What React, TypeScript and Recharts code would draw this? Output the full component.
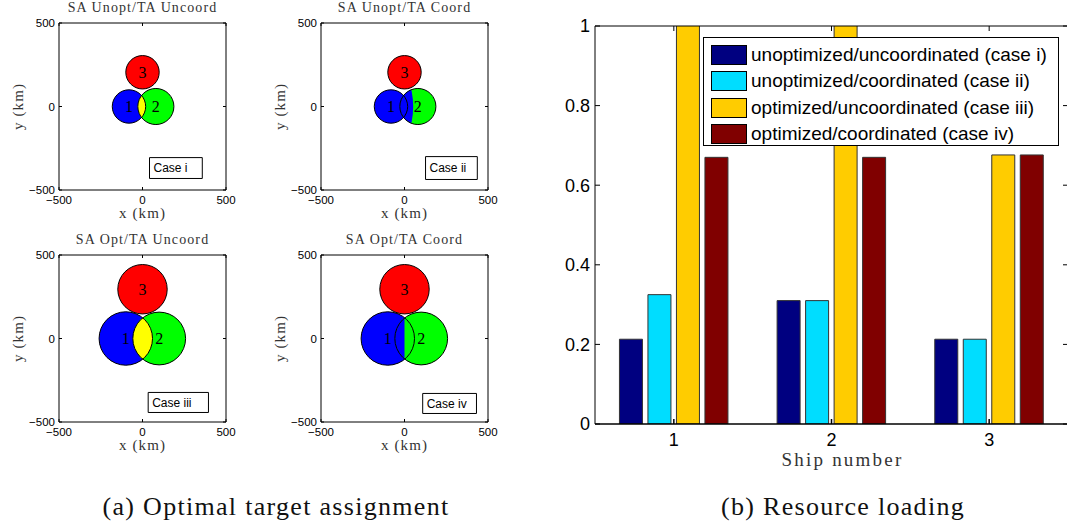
import React from 'react';
import {
  ScatterChart,
  Scatter,
  BarChart,
  Bar,
  XAxis,
  YAxis,
  ReferenceArea,
  Legend,
} from 'recharts';

// Ship coverage circles (km): centre x, centre y, radius
const shipIds = ['1', '2', '3'];
const unoptX = [-81, 80, 0];
const unoptY = [0, 0, 205];
const unoptR = [100, 108, 100];
const optX = [-100, 100, 0];
const optY = [0, 0, 295];
const optR = [160, 158, 148];

// coordinated assignment: boundary of ship 1's share inside ship 2 (case ii)
const handoverX = -400;
const handoverR = 452;
// coordinated assignment: overlap split line (case iv)
const splitX = 0;

const panelTitles = ['SA Unopt/TA Uncoord', 'SA Unopt/TA Coord', 'SA Opt/TA Uncoord', 'SA Opt/TA Coord'];
const caseTags = ['Case i', 'Case ii', 'Case iii', 'Case iv'];
const kmTicks = [-500, 0, 500];

// Resource loading per ship
const shipNumbers = ['1', '2', '3'];
const loadCaseI = [0.213, 0.31, 0.213];
const loadCaseII = [0.325, 0.31, 0.213];
const loadCaseIII = [1.34, 1.34, 0.676];
const loadCaseIV = [0.67, 0.67, 0.676];
const caseNames = [
  'unoptimized/uncoordinated (case i)',
  'unoptimized/coordinated (case ii)',
  'optimized/uncoordinated (case iii)',
  'optimized/coordinated (case iv)',
];
const loadTicks = [0, 0.2, 0.4, 0.6, 0.8, 1];

const SANS = '"Liberation Sans", Arial, sans-serif';
const SERIF = '"Liberation Serif", "Times New Roman", serif';
const shipColors = ['#0000FF', '#00FF00', '#FF0000'];
const barColors = ['#000080', '#00DDFF', '#FFCC00', '#800000'];

const panels = [
  { xs: unoptX, ys: unoptY, rs: unoptR, mode: 'overlap', box: [42, 358, -306, -431], left: 0, top: 0 },
  { xs: unoptX, ys: unoptY, rs: unoptR, mode: 'handover', box: [126, 436, -300, -437], left: 262, top: 0 },
  { xs: optX, ys: optY, rs: optR, mode: 'overlap', box: [34, 395, -323, -443], left: 0, top: 232 },
  { xs: optX, ys: optY, rs: optR, mode: 'split', box: [109, 431, -329, -449], left: 262, top: 232 },
];

const kmFormat = (v: number) => (v < 0 ? `\u2212${-v}` : `${v}`);
const blank = () => '';

const ellipseOf = (p: any) => ({
  cx: p.x + p.width / 2,
  cy: p.y + p.height / 2,
  rx: p.width / 2,
  ry: p.height / 2,
});

function CoveragePlot({ idx }: { idx: number }) {
  const { xs, ys, rs, mode, box, left, top } = panels[idx];
  const clipId = `ship2-cover-${idx}`;
  const ships = shipIds.map((id, i) => ({ x: xs[i], y: ys[i], id }));
  const area = (i: number) => ({
    x1: xs[i] - rs[i],
    x2: xs[i] + rs[i],
    y1: ys[i] - rs[i],
    y2: ys[i] + rs[i],
  });
  const axisCommon = {
    type: 'number' as const,
    domain: [-500, 500],
    ticks: kmTicks,
    allowDataOverflow: true,
    stroke: '#000',
    tickSize: -3,
  };
  const tickStyle = { fontSize: 11.5, fill: '#000', fontFamily: SANS };
  const labelStyle = { fontFamily: SERIF, fontSize: 15, fill: '#333', letterSpacing: 1.1 };

  return (
    <div style={{ position: 'absolute', left, top }}>
      <ScatterChart width={240} height={225} margin={{ top: 22, right: 13, bottom: 0, left: 0 }}>
        <XAxis
          {...axisCommon}
          dataKey="x"
          height={35}
          tickMargin={9}
          tick={tickStyle}
          tickFormatter={kmFormat}
          label={{ value: 'x (km)', position: 'insideBottom', offset: 7, style: labelStyle }}
        />
        {/* mirrored axes close the box; the top one carries the panel title */}
        <XAxis
          {...axisCommon}
          dataKey="x"
          xAxisId="top"
          orientation="top"
          height={1}
          tickFormatter={blank}
          label={{
            value: panelTitles[idx],
            position: 'top',
            offset: 10,
            style: { ...labelStyle, fontSize: 14 },
          }}
        />
        <YAxis
          {...axisCommon}
          dataKey="y"
          width={59}
          tickMargin={7}
          tick={tickStyle}
          tickFormatter={kmFormat}
          label={{
            value: 'y (km)',
            angle: -90,
            position: 'insideLeft',
            offset: 18,
            style: { ...labelStyle, textAnchor: 'middle' },
          }}
        />
        <YAxis {...axisCommon} dataKey="y" yAxisId="right" orientation="right" width={1} tickFormatter={blank} />

        {/* filled coverage discs; ship 2 also provides the clip for the overlap */}
        {shipIds.map((id, i) => (
          <ReferenceArea
            key={`fill-${id}`}
            {...area(i)}
            shape={(p: any) => (
              <g>
                {i === 1 && (
                  <defs>
                    <clipPath id={clipId}>
                      <ellipse {...ellipseOf(p)} />
                    </clipPath>
                  </defs>
                )}
                <ellipse {...ellipseOf(p)} fill={shipColors[i]} />
              </g>
            )}
          />
        ))}

        {mode === 'overlap' && (
          <ReferenceArea
            {...area(0)}
            shape={(p: any) => <ellipse {...ellipseOf(p)} fill="#FFFF00" clipPath={`url(#${clipId})`} />}
          />
        )}
        {mode === 'handover' && (
          <ReferenceArea
            x1={handoverX - handoverR}
            x2={handoverX + handoverR}
            y1={-handoverR}
            y2={handoverR}
            ifOverflow="visible"
            shape={(p: any) => <ellipse {...ellipseOf(p)} fill="#0000FF" clipPath={`url(#${clipId})`} />}
          />
        )}
        {mode === 'split' && (
          <ReferenceArea
            x1={xs[1] - rs[1]}
            x2={splitX}
            y1={ys[1] - rs[1]}
            y2={ys[1] + rs[1]}
            shape={(p: any) => (
              <rect x={p.x} y={p.y} width={p.width} height={p.height} fill="#0000FF" clipPath={`url(#${clipId})`} />
            )}
          />
        )}

        {/* circle outlines on top of the fills */}
        {shipIds.map((id, i) => (
          <ReferenceArea
            key={`edge-${id}`}
            {...area(i)}
            shape={(p: any) => <ellipse {...ellipseOf(p)} fill="none" stroke="#000" strokeWidth={1} />}
          />
        ))}

        <ReferenceArea
          x1={box[0]}
          x2={box[1]}
          y1={box[2]}
          y2={box[3]}
          fill="#fff"
          fillOpacity={1}
          stroke="#000"
          strokeWidth={1}
          label={{ value: caseTags[idx], position: 'insideLeft', offset: 4, fill: '#000', fontSize: 12, fontFamily: SANS }}
        />

        {/* ship numbers at the circle centres */}
        <Scatter
          data={ships}
          isAnimationActive={false}
          shape={(p: any) => (
            <text x={p.cx} y={p.cy} dy="0.35em" textAnchor="middle" fontFamily={SERIF} fontSize={16} fill="#000">
              {p.payload.id}
            </text>
          )}
        />
        <Scatter data={ships} xAxisId="top" yAxisId="right" isAnimationActive={false} shape={() => <g />} />
      </ScatterChart>
    </div>
  );
}

function LoadLegend() {
  return (
    <div
      style={{
        boxSizing: 'border-box',
        width: 356,
        height: 109,
        border: '1px solid #000',
        background: '#fff',
        padding: '4px 0 0 7px',
        fontFamily: SANS,
        fontSize: 19,
      }}
    >
      {caseNames.map((name, i) => (
        <div key={name} style={{ display: 'flex', alignItems: 'center', height: 26.3 }}>
          <span
            style={{
              display: 'inline-block',
              boxSizing: 'border-box',
              width: 36,
              height: 20,
              border: '1px solid #000',
              background: barColors[i],
              marginRight: 4,
            }}
          />
          <span style={{ color: '#000', whiteSpace: 'nowrap' }}>{name}</span>
        </div>
      ))}
    </div>
  );
}

function ResourceLoading() {
  const data = shipNumbers.map((ship, i) => ({
    ship,
    c1: loadCaseI[i],
    c2: loadCaseII[i],
    c3: loadCaseIII[i],
    c4: loadCaseIV[i],
  }));
  const tickStyle = { fontSize: 18, fill: '#000', fontFamily: SANS };

  return (
    <div style={{ position: 'absolute', left: 540, top: 0 }}>
      <BarChart
        width={530}
        height={470}
        data={data}
        margin={{ top: 25, right: 1, bottom: 0, left: 0 }}
        barCategoryGap="15.5%"
        barGap={5.5}
      >
        <XAxis
          dataKey="ship"
          height={46}
          tickSize={-5}
          tickMargin={14.5}
          tick={tickStyle}
          stroke="#000"
          strokeWidth={1.5}
          label={{
            value: 'Ship number',
            position: 'insideBottom',
            offset: 4,
            dx: 11,
            style: { fontFamily: SERIF, fontSize: 19, fill: '#333', letterSpacing: 2.2 },
          }}
        />
        <XAxis xAxisId="top" dataKey="ship" orientation="top" height={1} tickSize={-5} tickFormatter={blank} stroke="#000" />
        <YAxis
          domain={[0, 1]}
          ticks={loadTicks}
          allowDataOverflow
          width={55}
          tickSize={-5}
          tickMargin={10}
          tick={tickStyle}
          stroke="#000"
          tickFormatter={(v: number) => (v === 0 || v === 1 ? `${v}` : v.toFixed(1))}
        />
        <YAxis
          yAxisId="right"
          orientation="right"
          domain={[0, 1]}
          ticks={loadTicks}
          allowDataOverflow
          width={1}
          tickSize={-5}
          tickFormatter={blank}
          stroke="#000"
        />
        <Legend
          layout="vertical"
          align="center"
          verticalAlign="middle"
          content={<LoadLegend />}
          wrapperStyle={{ left: 163, top: 37, width: 356, height: 109 }}
        />
        {['c1', 'c2', 'c3', 'c4'].map((key, i) => (
          <Bar
            key={key}
            dataKey={key}
            name={caseNames[i]}
            fill={barColors[i]}
            stroke="#333"
            strokeWidth={1}
            isAnimationActive={false}
          />
        ))}
      </BarChart>
    </div>
  );
}

const captionStyle: React.CSSProperties = {
  position: 'absolute',
  top: 494,
  fontFamily: SERIF,
  fontSize: 26,
  lineHeight: '26px',
  letterSpacing: 1.3,
  color: '#111',
  textAlign: 'center',
  whiteSpace: 'nowrap',
};

export default function App() {
  return (
    <div
      style={{
        position: 'absolute',
        left: 0,
        top: 0,
        width: 1067,
        height: 529,
        overflow: 'hidden',
        background: '#fff',
      }}
    >
      {panels.map((_, i) => (
        <CoveragePlot key={i} idx={i} />
      ))}
      <ResourceLoading />
      <div style={{ ...captionStyle, left: 76, width: 400 }}>(a) Optimal target assignment</div>
      <div style={{ ...captionStyle, left: 693, width: 300 }}>(b) Resource loading</div>
    </div>
  );
}
